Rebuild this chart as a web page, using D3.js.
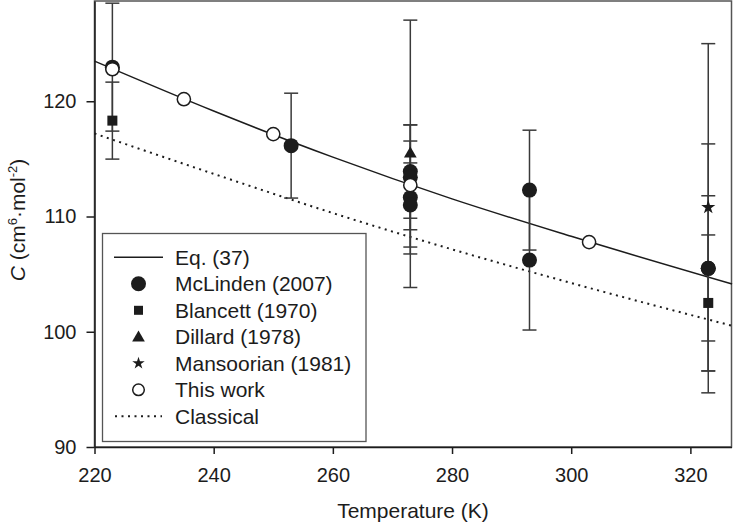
<!DOCTYPE html>
<html>
<head>
<meta charset="utf-8">
<script src="https://cdn.jsdelivr.net/npm/d3@7"></script>
<style>
  body { margin: 0; background: #fff; }
  svg { display: block; font-family: "Liberation Sans", Arial, sans-serif; }
</style>
</head>
<body>
<svg id="chart" width="733" height="528"></svg>
<script>
// values
const xTicks = [220, 240, 260, 280, 300, 320];
const yTicks = [90, 100, 110, 120];

// Eq. (37) and classical curves
const eqT = [220, 240, 260, 280, 300, 327];
const eqC = [123.48, 119.15, 115.15, 111.53, 108.28, 104.14];
const classT = [220, 240, 260, 280, 300, 327];
const classC = [117.2, 113.7, 110.3, 107.15, 104.23, 100.52];

// McLinden (2007)
const mclT = [223, 253, 273, 273, 273, 273, 293, 293, 323, 323];
const mclC = [122.96, 116.15, 113.9, 113.4, 111.65, 111.0, 112.29, 106.22, 105.5, 105.5];
const mclErr = [5.55, 4.55, 4.05, 4.55, 4.9, 3.65, 5.2, 6.07, 10.8, 6.3];

// Blancett (1970)
const blaT = [223, 323];
const blaC = [118.32, 102.5];
const blaErr = [3.34, 5.9];

// Dillard (1978)
const dilT = [273];
const dilC = [115.44];
const dilErr = [11.6];

// Mansoorian (1981)
const manT = [323];
const manC = [110.8];
const manErr = [14.2];

// This work
const twT = [223, 235, 250, 273, 303];
const twC = [122.78, 120.18, 117.15, 112.72, 107.78];

const legendLabels = ["Eq. (37)", "McLinden (2007)", "Blancett (1970)", "Dillard (1978)",
  "Mansoorian (1981)", "This work", "Classical"];

const ink = "#1c1c1c";
const svg = d3.select("#chart");

const x = d3.scaleLinear().domain([220, 326.9]).range([94.5, 731.5]);
const y = d3.scaleLinear().domain([90, 128.7]).range([447, 1]);

// frame (top / right)
svg.append("rect")
  .attr("x", x(220)).attr("y", y(128.7))
  .attr("width", x(326.9) - x(220)).attr("height", y(90) - y(128.7))
  .attr("fill", "none").attr("stroke", "#555").attr("stroke-width", 1.5);

// axes
const xAxis = svg.append("g")
  .attr("transform", "translate(0," + y(90) + ")")
  .call(d3.axisBottom(x).tickValues(xTicks).tickSize(7).tickPadding(14).tickSizeOuter(0));
const yAxis = svg.append("g")
  .attr("transform", "translate(" + x(220) + ",0)")
  .call(d3.axisLeft(y).tickValues(yTicks).tickSize(8).tickPadding(10).tickSizeOuter(0));

[xAxis, yAxis].forEach(g => {
  g.select(".domain").attr("stroke", ink).attr("stroke-width", 1.5);
  g.selectAll(".tick line").attr("stroke", ink).attr("stroke-width", 1.5);
  g.selectAll(".tick text").attr("fill", ink).style("font-size", "20px")
    .style("font-family", "'Liberation Sans', Arial, sans-serif");
});

// axis titles
svg.append("text")
  .attr("x", (x(220) + x(326.9)) / 2).attr("y", 518)
  .attr("text-anchor", "middle").attr("fill", ink)
  .style("font-size", "21px")
  .text("Temperature (K)");

const yt = svg.append("text")
  .attr("transform", "translate(25,220) rotate(-90)")
  .attr("text-anchor", "middle").attr("fill", ink)
  .style("font-size", "21px");
yt.append("tspan").style("font-style", "italic").text("C");
yt.append("tspan").text(" (cm");
yt.append("tspan").attr("dy", -8).style("font-size", "13px").text("6");
yt.append("tspan").attr("dy", 8).text("·mol");
yt.append("tspan").attr("dy", -8).style("font-size", "13px").text("-2");
yt.append("tspan").attr("dy", 8).text(")");

// curves
const line = d3.line().x(d => x(d[0])).y(d => y(d[1])).curve(d3.curveMonotoneX);
const plot = svg.append("g");

plot.append("path")
  .datum(d3.zip(classT, classC))
  .attr("d", line)
  .attr("fill", "none").attr("stroke", ink).attr("stroke-width", 2)
  .attr("stroke-dasharray", "2,4.5");

plot.append("path")
  .datum(d3.zip(eqT, eqC))
  .attr("d", line)
  .attr("fill", "none").attr("stroke", ink).attr("stroke-width", 1.5);

// error bars
const bars = [].concat(
  d3.zip(mclT, mclC, mclErr),
  d3.zip(blaT, blaC, blaErr),
  d3.zip(dilT, dilC, dilErr),
  d3.zip(manT, manC, manErr)
);
const eb = plot.append("g").attr("stroke", "#3a3a3a").attr("stroke-width", 1.5);
bars.forEach(([t, c, e]) => {
  eb.append("line").attr("x1", x(t)).attr("x2", x(t)).attr("y1", y(c + e)).attr("y2", y(c - e));
  [c + e, c - e].forEach(v => {
    eb.append("line").attr("x1", x(t) - 7).attr("x2", x(t) + 7).attr("y1", y(v)).attr("y2", y(v));
  });
});

// markers
plot.append("g").selectAll("rect")
  .data(d3.zip(blaT, blaC))
  .join("rect")
  .attr("x", d => x(d[0]) - 5).attr("y", d => y(d[1]) - 5)
  .attr("width", 10).attr("height", 10).attr("fill", ink);

plot.append("g").selectAll("path")
  .data(d3.zip(dilT, dilC))
  .join("path")
  .attr("transform", d => "translate(" + x(d[0]) + "," + y(d[1]) + ")")
  .attr("d", d3.symbol().type(d3.symbolTriangle).size(70)()).attr("fill", ink);

plot.append("g").selectAll("circle")
  .data(d3.zip(mclT, mclC))
  .join("circle")
  .attr("cx", d => x(d[0])).attr("cy", d => y(d[1])).attr("r", 7.5).attr("fill", ink);

plot.append("g").selectAll("path")
  .data(d3.zip(manT, manC))
  .join("path")
  .attr("transform", d => "translate(" + x(d[0]) + "," + y(d[1]) + ")")
  .attr("d", d3.symbol().type(d3.symbolStar).size(62)()).attr("fill", ink);

plot.append("g").selectAll("circle")
  .data(d3.zip(twT, twC))
  .join("circle")
  .attr("cx", d => x(d[0])).attr("cy", d => y(d[1])).attr("r", 6.6)
  .attr("fill", "#fff").attr("stroke", ink).attr("stroke-width", 1.5);

// legend
const lg = svg.append("g");
lg.append("rect")
  .attr("x", 102.5).attr("y", 233.5).attr("width", 263.5).attr("height", 208)
  .attr("fill", "#fff").attr("stroke", "#555").attr("stroke-width", 1.3);

const rowY = i => 257.3 + i * 26.5;
const symX = 138.5;
legendLabels.forEach((lab, i) => {
  lg.append("text")
    .attr("x", 175).attr("y", rowY(i)).attr("dy", "0.35em")
    .attr("fill", ink).style("font-size", "21px").text(lab);
});
lg.append("line").attr("x1", 114).attr("x2", 163).attr("y1", rowY(0)).attr("y2", rowY(0))
  .attr("stroke", ink).attr("stroke-width", 1.5);
lg.append("circle").attr("cx", symX).attr("cy", rowY(1)).attr("r", 7.5).attr("fill", ink);
lg.append("rect").attr("x", symX - 4.5).attr("y", rowY(2) - 4.5).attr("width", 9).attr("height", 9).attr("fill", ink);
lg.append("path").attr("transform", "translate(" + symX + "," + (rowY(3) + 1) + ")")
  .attr("d", d3.symbol().type(d3.symbolTriangle).size(70)()).attr("fill", ink);
lg.append("path").attr("transform", "translate(" + symX + "," + rowY(4) + ")")
  .attr("d", d3.symbol().type(d3.symbolStar).size(48)()).attr("fill", ink);
lg.append("circle").attr("cx", symX).attr("cy", rowY(5)).attr("r", 5.8)
  .attr("fill", "#fff").attr("stroke", ink).attr("stroke-width", 1.5);
lg.append("line").attr("x1", 115).attr("x2", 162).attr("y1", rowY(6)).attr("y2", rowY(6))
  .attr("stroke", ink).attr("stroke-width", 2).attr("stroke-dasharray", "2,4.5");
</script>
</body>
</html>
